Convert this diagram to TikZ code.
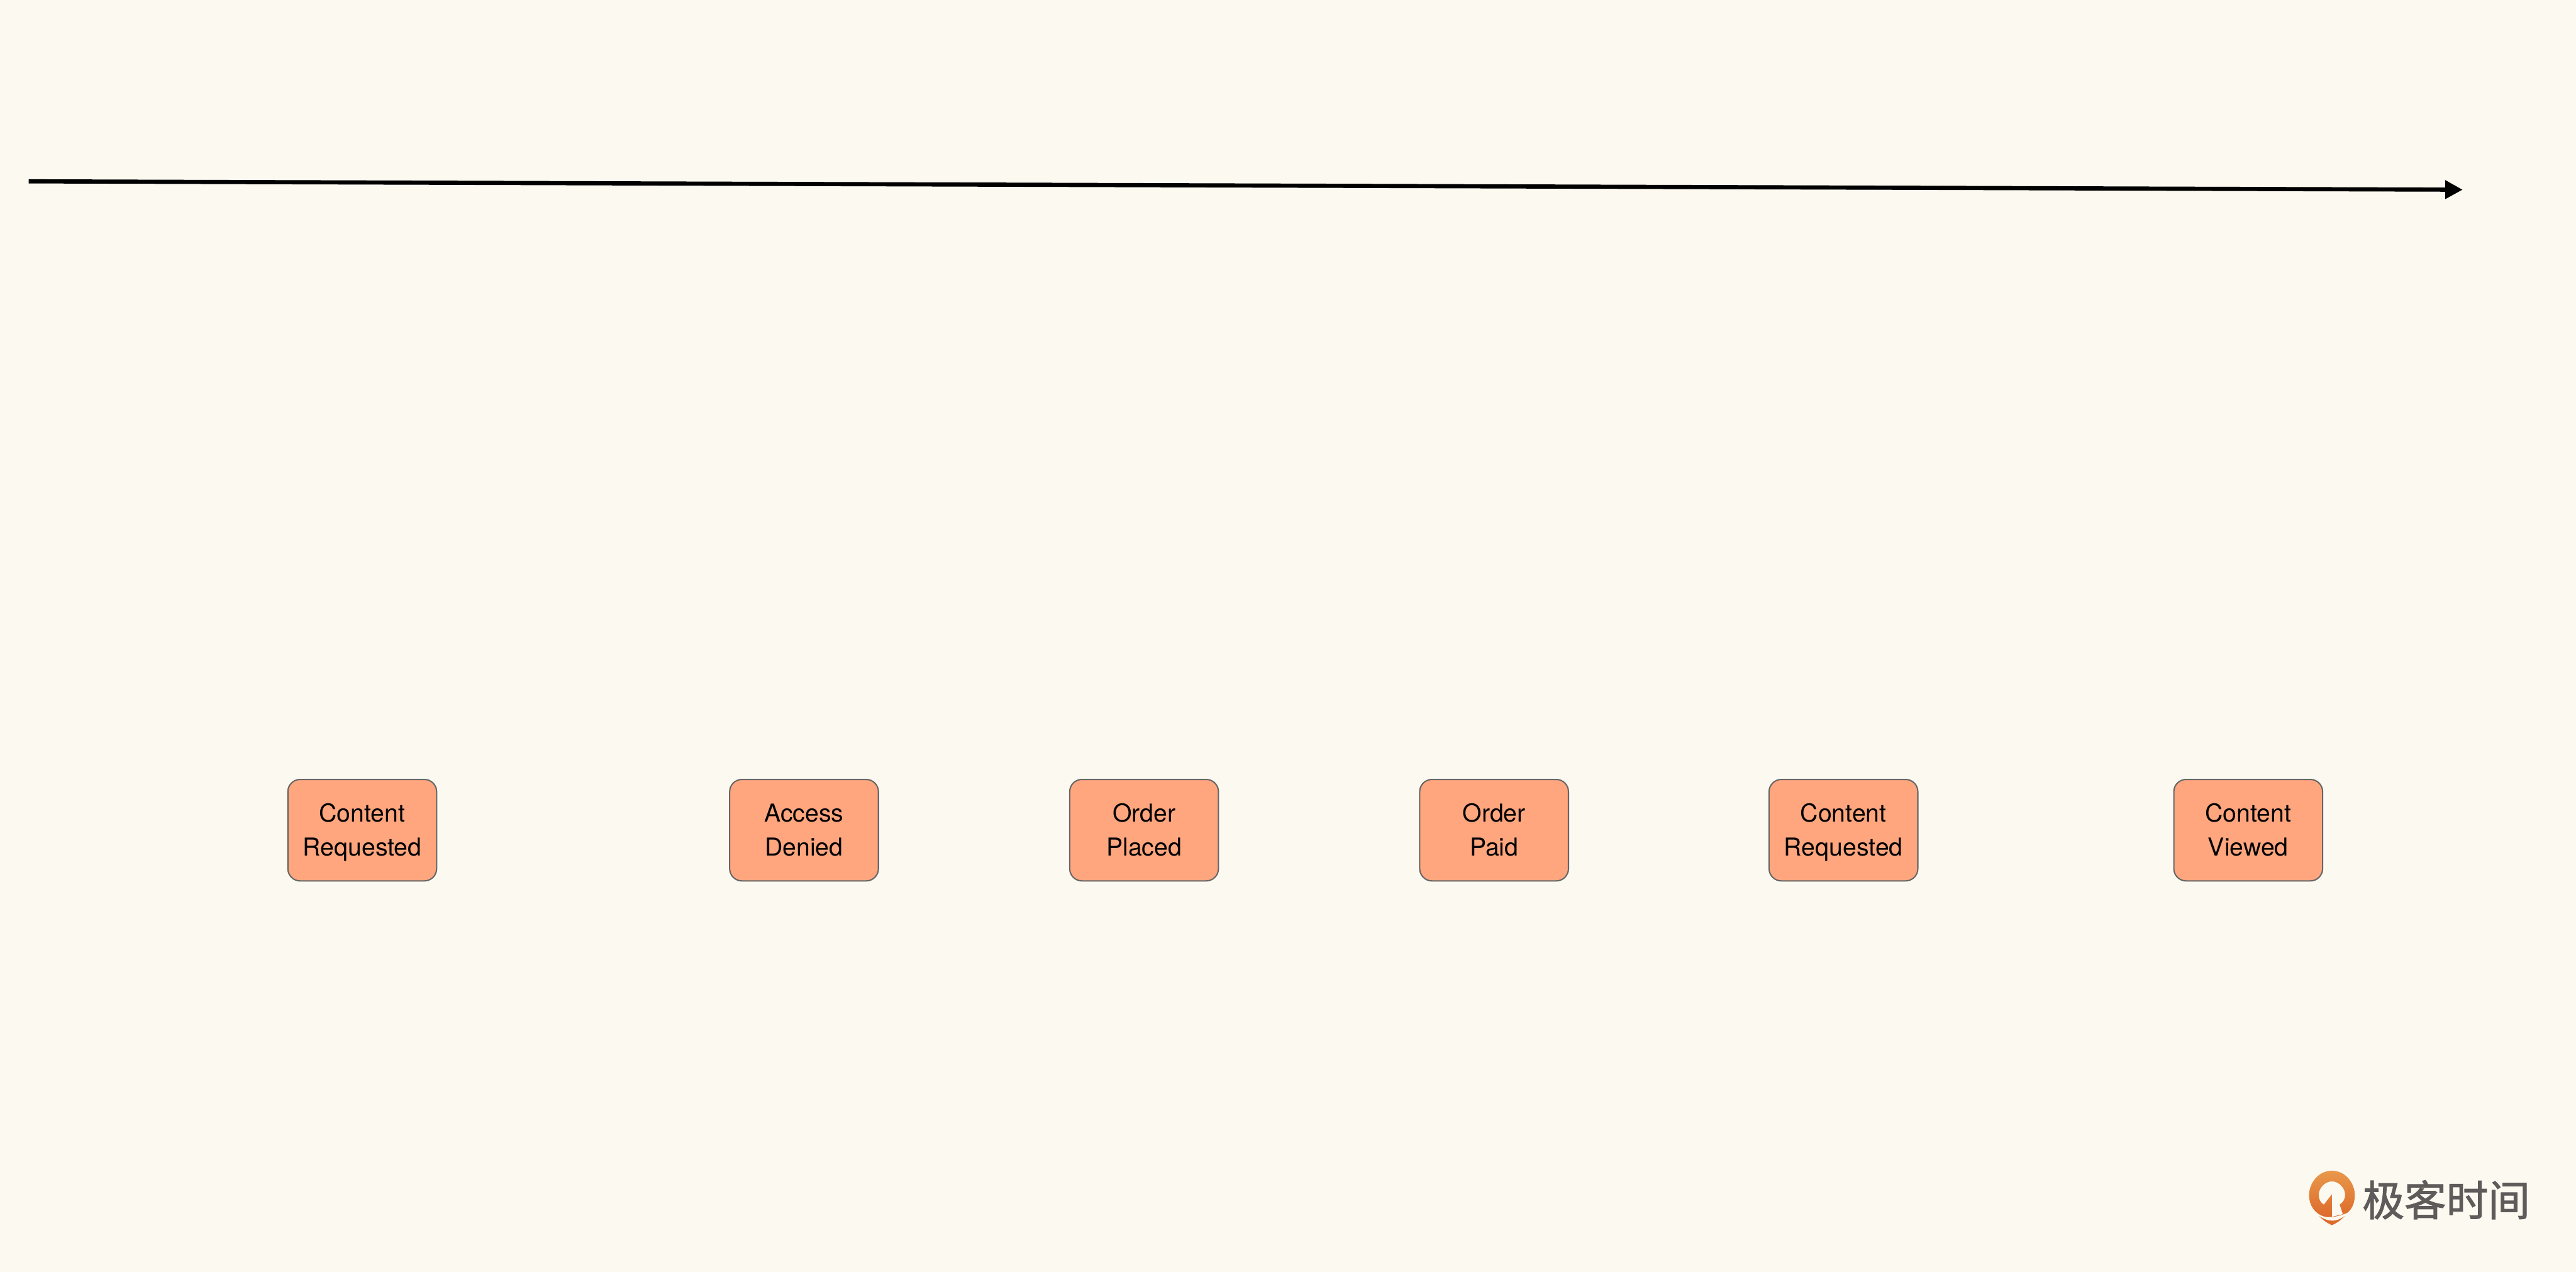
\documentclass[tikz,border=0pt]{standalone}
\usepackage{fontspec}
\setmainfont{TeX Gyre Heros}
\newfontfamily\cjk[FakeBold=1.6]{Noto Sans CJK SC}
\usepackage{xcolor}
\usetikzlibrary{calc, positioning, arrows.meta}
\definecolor{paper}{HTML}{FBF9F0}
\definecolor{boxfill}{HTML}{FFA67E}
\definecolor{boxline}{HTML}{666666}
\definecolor{logotext}{HTML}{5F5B5B}
\definecolor{logotop}{HTML}{E9984B}
\definecolor{logolow}{HTML}{DD6A2B}
\newcommand{\linestrut}{\rule[-.25em]{0pt}{1.2em}}
\tikzset{
    eventbox/.style={draw=boxline, fill=boxfill, line width=0.04cm, rounded corners=0.38cm,
        minimum width=4.62cm, minimum height=3.15cm, inner sep=0pt, align=center,
        font=\fontsize{21.8}{29.6}\selectfont},
    timeline/.style={line width=0.13cm, -{Triangle[length=0.54cm,width=0.55cm]}}
}

\begin{document}
\begin{tikzpicture}
    % Background sets the size of the page
    \fill[paper] (0,0) rectangle (80,39.49);
    \useasboundingbox (0,0) rectangle (80,39.49);

    % Time axis
    \coordinate (axisstart) at (0.89,33.86);
    \coordinate (axisend) at (76.48,33.60);
    \draw[timeline] (axisstart) -- (axisend);

    % Events along the axis
    \foreach \name/\posx/\first/\second in {
        requested/11.25/Content/Requested,
        denied/24.97/Access/Denied,
        placed/35.53/Order/Placed,
        paid/46.40/Order/Paid,
        again/57.25/Content/Requested,
        viewed/69.82/Content/Viewed} {
        \node[eventbox] (\name) at (\posx,13.715) {\linestrut\first\\\linestrut\second};
    }

    % Logo mark
    \begin{scope}[shift={(71.71,0)}, x=0.01cm, y=-0.01cm, yshift=39.49cm]
        \shade[top color=logotop, bottom color=logolow, even odd rule]
            (71,3637) .. controls (25,3637) and (0,3680) .. (0,3712)
            .. controls (0,3745) and (18,3772) .. (50,3780)
            .. controls (62,3782) and (85,3782) .. (118,3768)
            .. controls (135,3755) and (142,3735) .. (142,3712)
            .. controls (142,3680) and (117,3637) .. (71,3637) -- cycle
            (71,3670) .. controls (50,3670) and (30,3690) .. (30,3712)
            .. controls (30,3725) and (36,3738) .. (46,3742)
            -- (71,3710) -- (71,3780) -- (105,3772) -- (95,3742)
            .. controls (106,3735) and (112,3725) .. (112,3712)
            .. controls (112,3690) and (92,3670) .. (71,3670) -- cycle;
        \fill[logolow] (32,3778) .. controls (60,3797) and (85,3797) .. (110,3778)
            .. controls (100,3790) and (85,3800) .. (71,3806)
            .. controls (57,3800) and (42,3790) .. (32,3778) -- cycle;
    \end{scope}

    % Logo name
    \node[text=logotext, inner sep=0pt, font=\cjk\fontsize{37}{37}\selectfont] (logoname) at (75.97,2.24) {极客时间};
\end{tikzpicture}
\end{document}
